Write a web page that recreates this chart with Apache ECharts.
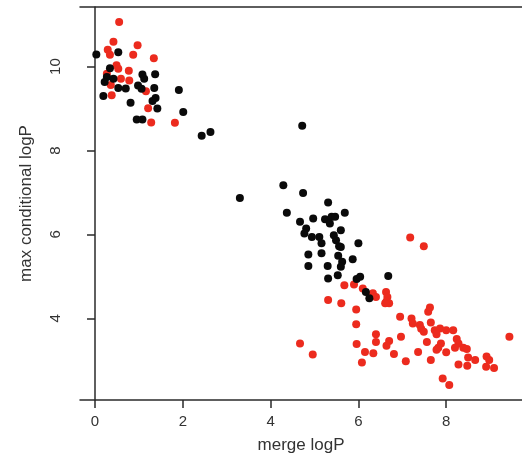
<!DOCTYPE html>
<html>
<head>
<meta charset="utf-8">
<script src="https://cdn.jsdelivr.net/npm/echarts@6/dist/echarts.min.js"></script>
<style>
  html, body { margin: 0; padding: 0; background: #fff; }
  #chart { width: 522px; height: 464px; }
</style>
</head>
<body>
<div id="chart"></div>
<script>
// black points [merge logP, max conditional logP]
var blackPoints = [
    [0.03, 10.29], [0.53, 10.34], [0.34, 9.96], [0.27, 9.75], [0.42, 9.71],
    [0.22, 9.63], [0.53, 9.49], [0.70, 9.48], [0.98, 9.55], [1.06, 9.47],
    [1.08, 9.81], [1.12, 9.71], [1.37, 9.82], [1.35, 9.49], [1.91, 9.44],
    [0.19, 9.30], [0.81, 9.14], [1.38, 9.25], [1.31, 9.18], [1.42, 9.00],
    [2.01, 8.92], [0.95, 8.74], [1.08, 8.74], [2.43, 8.35], [2.63, 8.44],
    [4.72, 8.59], [3.30, 6.87], [4.29, 7.17], [4.74, 6.99], [5.31, 6.76],
    [4.37, 6.52], [5.69, 6.52], [4.67, 6.30], [4.97, 6.38], [5.24, 6.36],
    [5.39, 6.42], [5.47, 6.42], [5.35, 6.26], [4.81, 6.14], [4.77, 6.02],
    [5.60, 6.10], [4.94, 5.94], [5.11, 5.94], [5.44, 5.98], [5.49, 5.86],
    [5.16, 5.79], [5.56, 5.72], [5.60, 5.70], [6.00, 5.79], [4.86, 5.52],
    [5.16, 5.55], [5.54, 5.49], [5.87, 5.41], [5.63, 5.35], [4.86, 5.25],
    [5.30, 5.25], [5.60, 5.23], [5.53, 5.03], [5.31, 4.95], [5.96, 4.94],
    [6.04, 4.99], [6.17, 4.63], [6.25, 4.48], [6.68, 5.01]
];

// red points
var redPoints = [
    [0.55, 11.06], [0.42, 10.59], [0.97, 10.51], [0.29, 10.40], [0.34, 10.28],
    [0.87, 10.28], [1.34, 10.20], [0.49, 10.03], [0.53, 9.95], [0.77, 9.90],
    [0.27, 9.83], [0.59, 9.71], [0.78, 9.67], [0.36, 9.56], [1.16, 9.41],
    [0.38, 9.32], [1.21, 9.01], [1.28, 8.67], [1.82, 8.66],
    [7.18, 5.93], [7.49, 5.72], [5.68, 4.79], [5.90, 4.81], [6.10, 4.71],
    [6.33, 4.60], [6.40, 4.51], [6.63, 4.63], [6.66, 4.51], [6.64, 4.40],
    [6.70, 4.36], [6.61, 4.36], [5.31, 4.44], [5.61, 4.36], [5.95, 4.21],
    [7.63, 4.26], [7.59, 4.16], [6.95, 4.04], [7.21, 4.00], [7.24, 3.88],
    [7.65, 3.90], [5.95, 3.86], [7.40, 3.84], [7.43, 3.75], [7.74, 3.72],
    [7.86, 3.76], [8.00, 3.72], [8.16, 3.72], [7.49, 3.68], [7.78, 3.62],
    [6.40, 3.62], [6.97, 3.56], [8.24, 3.51], [8.28, 3.40], [9.44, 3.56],
    [6.40, 3.44], [6.70, 3.46], [6.64, 3.35], [5.96, 3.39], [7.56, 3.44],
    [7.88, 3.40], [7.82, 3.30], [8.20, 3.30], [8.39, 3.30], [8.47, 3.27],
    [7.78, 3.25], [6.15, 3.20], [6.34, 3.17], [6.81, 3.15], [7.36, 3.20],
    [8.00, 3.19], [8.50, 3.07], [8.66, 3.01], [8.92, 3.09], [8.98, 3.01],
    [6.08, 2.95], [7.08, 2.98], [7.65, 3.01], [8.28, 2.90], [8.48, 2.87],
    [8.91, 2.85], [9.09, 2.82], [7.92, 2.57], [8.07, 2.41], [4.67, 3.40],
    [4.96, 3.14]
];

var xTicks = [0, 2, 4, 6, 8];
var yTicks = [4, 6, 8, 10];

var axisColor = '#2a2a2a';
var textColor = '#333';
var fontFamily = 'Liberation Sans, Arial, sans-serif';

var chart = echarts.init(document.getElementById('chart'));

var option = {
    backgroundColor: '#fff',
    animation: false,
    grid: {
        left: 80,
        top: 7,
        right: 0,
        bottom: 64
    },
    xAxis: [
        {
            type: 'value',
            min: -0.342,
            max: 9.727,
            name: 'merge logP',
            nameLocation: 'middle',
            nameGap: 37,
            nameTextStyle: { color: textColor, fontSize: 17, fontFamily: fontFamily },
            axisLine: { show: true, lineStyle: { color: axisColor, width: 1.5 } },
            axisTick: {
                show: true,
                length: 8,
                customValues: xTicks,
                lineStyle: { color: axisColor, width: 1.5 }
            },
            axisLabel: {
                customValues: xTicks,
                margin: 14,
                color: textColor,
                fontSize: 15,
                fontFamily: fontFamily
            },
            splitLine: { show: false }
        },
        {
            // top edge of the box
            type: 'value',
            position: 'top',
            min: -0.342,
            max: 9.727,
            axisLine: { show: true, lineStyle: { color: axisColor, width: 1.5 } },
            axisTick: { show: false },
            axisLabel: { show: false },
            splitLine: { show: false }
        }
    ],
    yAxis: {
        type: 'value',
        min: 2.055,
        max: 11.42,
        name: 'max conditional logP',
        nameLocation: 'middle',
        nameGap: 45,
        nameTextStyle: { color: textColor, fontSize: 17, fontFamily: fontFamily },
        axisLine: { show: true, lineStyle: { color: axisColor, width: 1.5 } },
        axisTick: {
            show: true,
            length: 8,
            customValues: yTicks,
            lineStyle: { color: axisColor, width: 1.5 }
        },
        axisLabel: {
            customValues: yTicks,
            rotate: 90,
            margin: 17,
            color: textColor,
            fontSize: 15,
            fontFamily: fontFamily
        },
        splitLine: { show: false }
    },
    series: [
        {
            type: 'scatter',
            data: redPoints,
            symbol: 'circle',
            symbolSize: 8,
            itemStyle: { color: '#ec2b1e', opacity: 1 }
        },
        {
            type: 'scatter',
            data: blackPoints,
            symbol: 'circle',
            symbolSize: 8,
            itemStyle: { color: '#0a0a0a', opacity: 1 }
        }
    ]
};

chart.setOption(option);
</script>
</body>
</html>
